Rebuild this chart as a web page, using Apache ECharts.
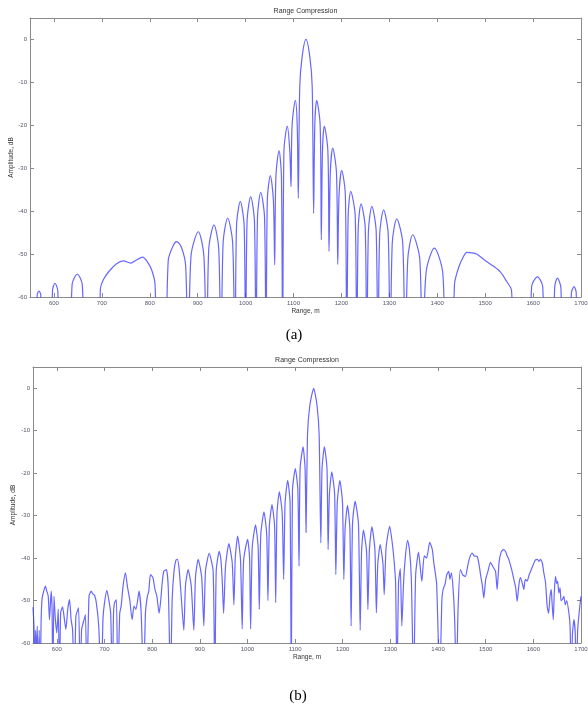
<!DOCTYPE html>
<html>
<head>
<meta charset="utf-8">
<script src="https://cdn.jsdelivr.net/npm/echarts@6/dist/echarts.min.js"></script>
<style>
html,body{margin:0;padding:0;background:#fff;}
#chart{width:588px;height:709px;}
</style>
</head>
<body>
<div id="chart"></div>
<script>
var chartTitle = 'Range Compression';
var xName = 'Range, m';
var yName = 'Amplitude, dB';
var xTicks = [600, 700, 800, 900, 1000, 1100, 1200, 1300, 1400, 1500, 1600, 1700];
var yTicks = [-60, -50, -40, -30, -20, -10, 0];

// (a) range (m) and amplitude (dB); values below -60 run off the axis
var rangeA = [563,565,568.7,572.5,575, 594,597,602,608,612.5, 631,638,648.7,659,666,
  692,697,703,715,730,745,760,772,785,795,804,811,816,
  830,838.6,849,856,866,875,880, 886,901.3,913,918.8, 923,934,944,948.6, 953,962.6,973,977.9,
  981,988.9,997,1000, 1003,1010.6,1018.5,1021.7, 1024.8,1031.5,1039.5,1042.6, 1045.3,1051.6,1058,1060.7,
  1063.2,1069.7,1074.8,1077.3, 1080,1087,1092.2,1094.8, 1097,1103.8,1107.7,1110,
  1113,1118,1126,1134,1139,1142, 1144.4,1148.4,1155.6,1158, 1160.4,1164.3,1171.7,1174.1,
  1176.8,1181.8,1189.6,1192.3, 1195,1200.6,1208.2,1211, 1214,1219.4,1228.8,1231.9,
  1235,1240.9,1249.7,1252.8, 1256.3,1263.5,1272.5,1276, 1279.8,1288,1297.7,1301.5,
  1306,1315.4,1328,1333, 1338.4,1348.8,1363.6,1369, 1376.5,1394,1411.5,1419,
  1431.5,1436,1445,1455,1462,1472,1482,1500,1517,1532,1545,1555,1562,
  1592,1597,1609,1620,1625, 1642,1645,1650.7,1658,1663, 1677,1680,1685.6,1690,1692];
var dbA = [-80,-59.5,-58.6,-59.5,-80, -80,-58.5,-56.8,-58.5,-80, -80,-57,-54.7,-57,-80,
  -80,-58,-56,-54,-52.3,-51.6,-52.1,-51.4,-50.7,-51.8,-53.7,-57,-80,
  -80,-51.4,-48,-47.1,-48.4,-52.9,-80, -50.5,-44.8,-50.5,-80, -49,-43.2,-49,-80, -47.5,-41.6,-47.5,-80,
  -43.5,-37.7,-43.5,-80, -42.5,-36.6,-42.5,-80, -41.5,-35.6,-41.5,-80, -37.5,-31.7,-37.5,-52.5,
  -32,-25.9,-32,-80, -26,-20.2,-26,-34.3, -20,-14.2,-20,-37,
  -11,-4,0,-4,-11,-40.5, -20,-14.2,-20,-46.7, -26,-20.2,-26,-49.4,
  -31,-25.3,-31,-52.4, -36.3,-30.5,-36.3,-80, -41.2,-35.4,-41.2,-80,
  -44,-38.3,-44,-80, -44.7,-38.9,-44.7,-80, -45.5,-39.7,-45.5,-80,
  -47.6,-41.8,-47.6,-80, -51.3,-45.5,-51.3,-80, -54.4,-48.6,-54.4,-80,
  -80,-57,-53,-50.5,-49.6,-49.7,-50,-51.5,-52.8,-54.2,-56.4,-58.5,-80,
  -80,-57.5,-55.3,-57.5,-80, -80,-57.8,-55.6,-57.8,-80, -80,-59,-57.6,-59,-80];

// (b) range (m) and amplitude (dB)
var rangeB = [550,552,553.5,555,557,559,561,563,565,567,569,572,576,579,582,584.6,588,590,591.6,594,597,600,603,605.7,
  608,612,616,619,623,626.7,630,633,637,640,645.6,649,652,656,660,663,667.5,672,676,679,683,688,693,697,
  700,705,709,713,716.5,719,721,725,728,732,735,739,744,748,753,758,762,766,772.5,777,782,786,790,793,796.4,
  800,802,806,810,814.6,818,821,824.4,830,834,838.5,842,846,850,853.2,857,861,866.5,
  870,875.5,882,887.5, 891,896.6,904,908.5, 912,919.7,928,931.6, 934.5,940.7,944,947,950,
  954,961,968,971.6, 974.5,979.4,985.5,989, 992,1000.4,1004.5,1006.7, 1010,1017,1022.5,1024.9,
  1028,1034.7,1040.5,1043, 1046,1051.5,1057,1059.3, 1062,1067,1073,1076, 1079,1084.5,1089.5,1092,
  1094.5,1100.5,1105.8,1108.3, 1110.5,1116.7,1121,1123,
  1126,1131,1139,1146,1150.5,1154, 1156.5,1161.5,1167,1169.3, 1172,1177,1183,1185.5,
  1188.5,1194,1199.5,1202.3, 1205,1210,1215,1217.6, 1220.5,1226,1233,1236.6,
  1239.5,1243.5,1250,1252.8, 1256,1261.2,1267.5,1270.6, 1273.5,1278.6,1284.5,1287, 1291,
  1298.5,1304,1308,1311,1313.8,1317,1320.8,1324,1328,1332,1336,1340,1344,1348.7,1353,1359,1366,1371,1376,
  1382.5,1388,1391,1397,1403.5,1408,1410.6,1415,1418,1422.4,1425,1428,1432,1435,1438.5,1442,1446.9,1452,
  1457.4,1462,1466,1471.5,1476,1482,1486,1490,1493,1496,1500,1505,1510,1515,1520.6,1524,1528,1532.4,1537,
  1541.4,1545,1548.5,1554,1559,1563,1566,1570,1573,1577,1580,1583,1587,1591,1595.6,1600,1604,1608,1612,
  1615,1618.7,1622,1625.6,1629,1632,1635,1637.6,1639,1641.8,1644,1646.6,1649,1651,1653.6,1656,1658,1660.7,
  1664,1667,1670,1674.7,1677,1680,1682,1685.2,1688,1690,1693,1696,1699,1700];
var dbB = [-51.6,-56,-70,-57,-62,-56,-70,-57,-70,-55,-49.6,-48,-46.6,-47.8,-49,-54.5,-47.8,-52,-70,-49,-54.5,-57.6,-52,-70,
  -52.9,-51.5,-54.5,-56.8,-52,-49.8,-54.5,-56.8,-70,-53.7,-51.7,-70,-56.8,-55,-53.3,-70,-49,-47.8,-48.5,-48.7,-50.6,-56.1,-70,-54,
  -50.6,-47.6,-49.8,-53,-70,-53,-50.6,-49.8,-70,-53,-51.3,-46.6,-43.5,-46.6,-49.8,-54.5,-51.3,-52.1,-47.8,-52.9,-70,-52.9,-49,-47.8,-43.9,
  -44.3,-44.7,-47.4,-49,-53,-50,-46,-43.1,-42.7,-47.4,-70,-50,-43,-40.5,-40.3,-43,-49,-57,
  -46.5,-42.7,-46.5,-57, -44.5,-40.3,-44.5,-56, -43,-38.9,-43,-70, -43,-38.4,-40,-45,-53,
  -42,-36.6,-41,-51, -40,-34.8,-40.5,-56.7, -40.5,-35.6,-40,-56.7, -37.5,-32.2,-37.5,-52.1,
  -34.5,-29.1,-34.5,-50, -32.5,-27.4,-32.5,-50.5, -29.5,-24.4,-29.5,-45, -27,-21.7,-27,-70,
  -24,-18.9,-24,-41.9, -19,-13.8,-19,-34,
  -11,-4,0,-4,-11,-36.4, -19,-13.8,-19,-38, -25,-19.7,-25,-43.9,
  -27,-21.7,-27,-45, -33,-27.6,-33,-56, -32,-26.6,-32,-57,
  -38.5,-33.4,-38.5,-52.1, -38,-32.6,-38,-52.9, -41.5,-36.8,-41.5,-48.6, -37.5,
  -32.5,-36.5,-41,-46,-70,-45.9,-42.5,-56,-45,-39,-35.8,-38,-45,-70,-44,-38.6,-45.5,-39.5,-40,
  -36.3,-38,-41,-46,-70,-50,-47.4,-46,-44,-43.1,-45,-43.5,-48,-55,-70,-52,-42.7,-44,
  -44.3,-42,-40,-38.8,-39.5,-39.6,-41.5,-44.5,-46.5,-49.4,-45,-43,-41,-42,-43.1,-47.4,-41,-38.6,-38,
  -38.4,-39.5,-40.3,-42.5,-45,-47,-50.2,-46,-44.6,-46,-47.4,-45,-45.4,-44,-42.7,-41.5,-40.5,-40.3,-40.8,
  -40.3,-41.1,-43.5,-45.8,-51.4,-53,-49,-47.4,-50,-54.5,-48,-44.3,-46,-45.5,-48.2,-47,-50,-49.8,
  -49,-51,-50,-53,-56,-70,-58,-54.5,-58,-70,-57,-53,-49.8,-49];

function zip(xs, ys) { return xs.map(function (x, i) { return [x, ys[i]]; }); }
function plain(v) { return String(v); }

var axisColor = '#8a8a8a';
var labelColor = '#55556a';
var fontFam = 'Liberation Sans, Arial, sans-serif';

function xBottom(g) {
  return {
    gridIndex: g, type: 'value', min: 550, max: 1700, position: 'bottom',
    axisLine: { show: true, onZero: false, lineStyle: { color: axisColor, width: 1 } },
    axisTick: { show: true, inside: true, length: 4, customValues: xTicks, lineStyle: { color: axisColor } },
    axisLabel: { show: true, customValues: xTicks, formatter: plain, fontSize: 6, color: labelColor, margin: 3, fontFamily: fontFam },
    splitLine: { show: false },
    name: xName, nameLocation: 'middle', nameGap: 11, nameMoveOverlap: false,
    nameTextStyle: { fontSize: 6.5, color: '#333', fontFamily: fontFam }
  };
}
function xTop(g) {
  return {
    gridIndex: g, type: 'value', min: 550, max: 1700, position: 'top',
    axisLine: { show: true, onZero: false, lineStyle: { color: axisColor, width: 1 } },
    axisTick: { show: true, inside: true, length: 4, customValues: xTicks, lineStyle: { color: axisColor } },
    axisLabel: { show: false },
    splitLine: { show: false }
  };
}
function yLeft(g, gap) {
  return {
    gridIndex: g, type: 'value', min: -60, max: 5, position: 'left',
    axisLine: { show: true, onZero: false, lineStyle: { color: axisColor, width: 1 } },
    axisTick: { show: true, inside: true, length: 4, customValues: yTicks, lineStyle: { color: axisColor } },
    axisLabel: { show: true, customValues: yTicks, formatter: plain, fontSize: 6, color: labelColor, margin: 3, fontFamily: fontFam },
    splitLine: { show: false },
    name: yName, nameLocation: 'middle', nameGap: gap, nameRotate: 90, nameMoveOverlap: false,
    nameTextStyle: { fontSize: 6.5, color: '#333', fontFamily: fontFam }
  };
}
function yRight(g) {
  return {
    gridIndex: g, type: 'value', min: -60, max: 5, position: 'right',
    axisLine: { show: true, onZero: false, lineStyle: { color: axisColor, width: 1 } },
    axisTick: { show: true, inside: true, length: 4, customValues: yTicks, lineStyle: { color: axisColor } },
    axisLabel: { show: false },
    splitLine: { show: false }
  };
}

var lineStyle = { color: 'rgba(45,45,255,0.72)', width: 1.2 };

var option = {
  animation: false,
  backgroundColor: '#ffffff',
  grid: [
    { left: 30, top: 18, width: 551, height: 279, containLabel: false, outerBoundsMode: 'none' },
    { left: 33, top: 367, width: 548, height: 276, containLabel: false, outerBoundsMode: 'none' }
  ],
  xAxis: [xBottom(0), xTop(0), xBottom(1), xTop(1)],
  yAxis: [yLeft(0, 15), yRight(0), yLeft(1, 16), yRight(1)],
  series: [
    { type: 'line', xAxisIndex: 0, yAxisIndex: 0, data: zip(rangeA, dbA), showSymbol: false, symbol: 'none',
      smooth: 0.3, clip: true, lineStyle: lineStyle },
    { type: 'line', xAxisIndex: 2, yAxisIndex: 2, data: zip(rangeB, dbB), showSymbol: false, symbol: 'none',
      smooth: 0.2, clip: true, lineStyle: lineStyle }
  ],
  graphic: [
    { type: 'text', x: 305.5, y: 11, style: { text: chartTitle, fontSize: 7, fill: '#333', fontFamily: fontFam,
      textAlign: 'center', textVerticalAlign: 'middle', align: 'center', verticalAlign: 'middle' } },
    { type: 'text', x: 307, y: 360, style: { text: chartTitle, fontSize: 7, fill: '#333', fontFamily: fontFam,
      textAlign: 'center', textVerticalAlign: 'middle', align: 'center', verticalAlign: 'middle' } },
    { type: 'text', x: 294, y: 335, style: { text: '(a)', fontSize: 15, fill: '#000', fontFamily: 'Liberation Serif, Times New Roman, serif',
      textAlign: 'center', textVerticalAlign: 'middle', align: 'center', verticalAlign: 'middle' } },
    { type: 'text', x: 298, y: 696, style: { text: '(b)', fontSize: 15, fill: '#000', fontFamily: 'Liberation Serif, Times New Roman, serif',
      textAlign: 'center', textVerticalAlign: 'middle', align: 'center', verticalAlign: 'middle' } }
  ]
};

var chart = echarts.init(document.getElementById('chart'), null, { renderer: 'canvas' });
chart.setOption(option);
</script>
</body>
</html>
